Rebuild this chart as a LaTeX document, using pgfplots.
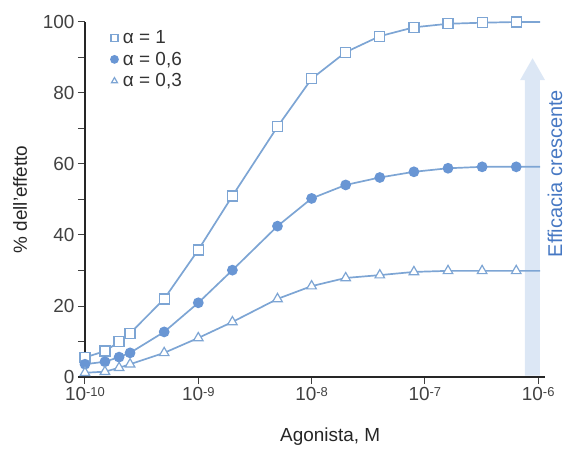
\documentclass[border=0pt]{standalone}
\usepackage{fontspec}
\setmainfont{Liberation Sans}
\usepackage{pgfplots}
\pgfplotsset{compat=1.18}
\definecolor{curve}{RGB}{125,165,212}
\definecolor{dot}{RGB}{105,150,212}
\definecolor{arrowfill}{RGB}{220,231,245}
\definecolor{arrowtext}{RGB}{70,120,195}
\definecolor{ticktext}{RGB}{65,65,65}
\newcommand{\bigf}{\fontsize{19}{22}\selectfont}
\newcommand{\pw}[1]{10\raisebox{4bp}{\fontsize{13}{13}\selectfont #1}}

\begin{document}
\begin{tikzpicture}
\begin{axis}[
  scale only axis, width=460bp, height=355bp,
  xmode=log, xmin=1e-10, xmax=1.148e-6,
  ymin=0, ymax=100,
  axis lines=left,
  axis line style={-, line width=1.5bp, black!85},
  x axis line style={shorten <=-7bp},
  clip=false,
  xtick={1e-10,1e-9,1e-8,1e-7,1e-6},
  xticklabels={\pw{-10},\pw{-9},\pw{-8},\pw{-7},\pw{-6}},
  xminorticks=false,
  ytick={0,20,...,100},
  minor ytick={10,30,50,70,90},
  tick align=outside,
  major tick length=7bp, minor tick length=7bp,
  every tick/.style={black!75, line width=1bp},
  tick label style={font=\bigf, text=ticktext},
  /pgf/number format/assume math mode=true,
  xlabel={Agonista, M},
  ylabel={\% dell'effetto},
  every axis x label/.style={at={(axis description cs:0.533,-0.169)}, anchor=center, font=\bigf, text=black!85},
  every axis y label/.style={at={(axis description cs:-0.141,0.5)}, rotate=90, anchor=center, font=\bigf, text=black!85},
  legend style={at={(axis description cs:0.035,0.985)}, anchor=north west, draw=none, fill=none,
    font=\fontsize{19}{21.5}\selectfont, text=black!80, inner sep=1bp, row sep=3bp},
  legend cell align=left,
  legend image code/.code={\path (0cm,0cm) (0.6cm,0cm);
    \draw[#1, mark size=3.5bp] plot coordinates {(0.4cm,0cm)};},
]
% freccia "Efficacia crescente"
\fill[arrowfill] (rel axis cs:0.9565,0.004) -- (rel axis cs:0.9565,0.8366) -- (rel axis cs:0.946,0.8366)
  -- (rel axis cs:0.973,0.898) -- (rel axis cs:1.0,0.8366) -- (rel axis cs:0.989,0.8366)
  -- (rel axis cs:0.989,0.004) -- cycle;
\node[rotate=90, text=arrowtext, font=\fontsize{20}{22}\selectfont] at (rel axis cs:1.0217,0.573) {Efficacia crescente};

% alpha = 1
\addplot[curve, line width=1.7bp, mark=square*, mark size=5bp,
  mark options={fill=white, draw=curve, line width=1.2bp, solid}, mark indices={1,...,15}] coordinates {
  (1e-10,5.5) (1.5e-10,7.3) (2e-10,9.9) (2.5e-10,12.3) (5e-10,22) (1e-9,35.8) (2e-9,51)
  (5e-9,70.5) (1e-8,84) (2e-8,91.5) (4e-8,96) (8e-8,98.5) (1.6e-7,99.5) (3.2e-7,99.8)
  (6.4e-7,100) (1.04e-6,100)
};
% alpha = 0,6
\addplot[curve, line width=1.7bp, mark=*, mark size=4.5bp,
  mark options={fill=dot, draw=dot, solid}, mark indices={1,...,15}] coordinates {
  (1e-10,3.6) (1.5e-10,4.3) (2e-10,5.6) (2.5e-10,6.8) (5e-10,12.7) (1e-9,20.9) (2e-9,30.1)
  (5e-9,42.5) (1e-8,50.3) (2e-8,54.1) (4e-8,56.2) (8e-8,57.8) (1.6e-7,58.8) (3.2e-7,59.2)
  (6.4e-7,59.2) (1.04e-6,59.2)
};
% alpha = 0,3
\addplot[curve, line width=1.7bp, mark=triangle*, mark size=5.5bp,
  mark options={fill=white, draw=curve, line width=1.2bp, solid}, mark indices={1,...,15}] coordinates {
  (1e-10,1.2) (1.5e-10,1.5) (2e-10,2.6) (2.5e-10,3.6) (5e-10,6.8) (1e-9,11) (2e-9,15.5)
  (5e-9,22) (1e-8,25.6) (2e-8,27.9) (4e-8,28.7) (8e-8,29.6) (1.6e-7,29.9) (3.2e-7,29.9)
  (6.4e-7,29.9) (1.04e-6,29.9)
};
\legend{{α = 1}, {α = 0,6}, {α = 0,3}}
\end{axis}
\pgfresetboundingbox
\path[use as bounding box] ([shift={(-85bp,-73bp)}]current axis.south west) rectangle ([shift={(29bp,22bp)}]current axis.north east);
\end{tikzpicture}
\end{document}
